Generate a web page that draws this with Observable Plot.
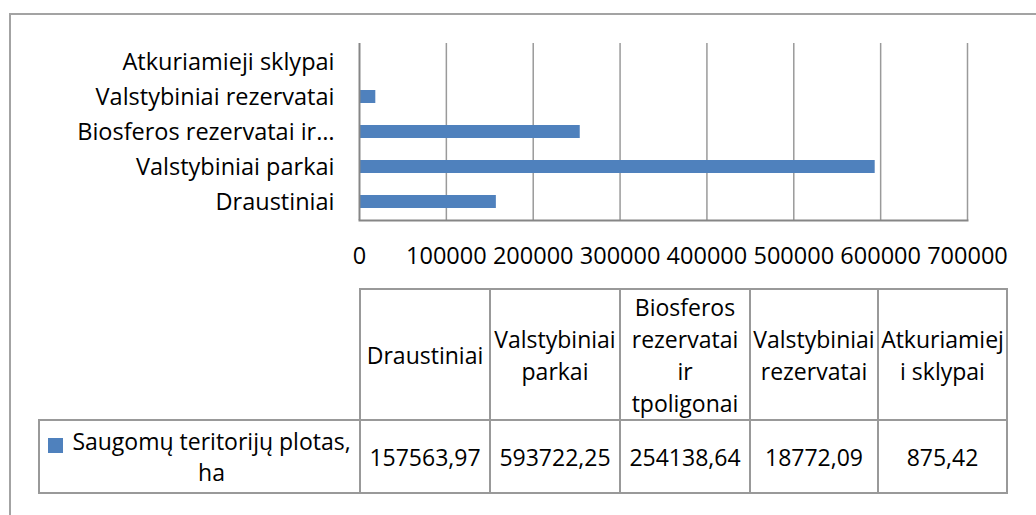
<!DOCTYPE html>
<html>
<head>
<meta charset="utf-8">
<script src="https://cdn.jsdelivr.net/npm/d3@7"></script>
<script src="https://cdn.jsdelivr.net/npm/@observablehq/plot@0.6"></script>
<style>
  html, body { margin: 0; padding: 0; background: #fff; }
  #wrap { position: relative; width: 1036px; height: 515px; overflow: hidden; font-family: "Open Sans", sans-serif; color: #000; }
  #frame { position: absolute; left: 9px; top: 13px; width: 1040px; height: 520px; border-top: 2px solid #a3a3a3; border-left: 2px solid #a3a3a3; box-sizing: border-box; }
  #chart { position: absolute; left: 0; top: 0; }
  #tbl { position: absolute; left: 38px; top: 288px; width: 968px; border-collapse: collapse; table-layout: fixed; font-size: 23px; }
  #tbl td { border: 2px solid #999; padding: 0; text-align: center; vertical-align: middle; white-space: pre; line-height: 32px; overflow: visible; }
  #tbl td.empty { border: none; }
  .key { position: absolute; left: 8px; top: 12px; width: 15px; height: 15px; }
  .leg { position: relative; padding: 0 6px 0 30px; line-height: 31px; }
</style>
</head>
<body>
<div id="wrap">
  <div id="frame"></div>
  <div id="chart"></div>
  <table id="tbl"><colgroup id="cols"></colgroup></table>
</div>
<script>
const categories = ["Draustiniai", "Valstybiniai parkai", "Biosferos rezervatai ir tpoligonai", "Valstybiniai rezervatai", "Atkuriamieji sklypai"];
const values = [157563.97, 593722.25, 254138.64, 18772.09, 875.42];
const axisLabels = ["Draustiniai", "Valstybiniai parkai", "Biosferos rezervatai ir…", "Valstybiniai rezervatai", "Atkuriamieji sklypai"];
const tableHeaders = ["Draustiniai", "Valstybiniai\nparkai", "Biosferos\nrezervatai\nir\ntpoligonai", "Valstybiniai\nrezervatai", "Atkuriamiej\ni sklypai"];
const seriesName = "Saugomų teritorijų plotas,\nha";
const xTicks = [0, 100000, 200000, 300000, 400000, 500000, 600000, 700000];
const barColor = "#4F81BD";

const data = categories.map((c, i) => ({category: c, value: values[i]}));

const chart = Plot.plot({
  width: 1036,
  height: 280,
  marginLeft: 359,
  marginRight: 69,
  marginTop: 43,
  marginBottom: 60,
  style: {fontFamily: "Open Sans, sans-serif", fontSize: "23px", color: "#000", background: "transparent", overflow: "visible"},
  x: {domain: [0, 700000]},
  y: {domain: categories.slice().reverse(), paddingInner: 0, paddingOuter: 0},
  marks: [
    Plot.gridX(xTicks.slice(1), {stroke: "#9a9a9a", strokeOpacity: 1, strokeWidth: 1.5}),
    Plot.frame({anchor: "bottom", stroke: "#868686", strokeWidth: 2}),
    Plot.barX(data, {x: "value", y: "category", fill: barColor, insetTop: 11, insetBottom: 11}),
    Plot.ruleX([0], {stroke: "#868686", strokeWidth: 2}),
    Plot.axisY({tickSize: 0, tickPadding: 25, label: null, fontSize: 23.5, tickFormat: d => axisLabels[categories.indexOf(d)]}),
    Plot.axisX(xTicks, {tickSize: 0, tickPadding: 27, label: null, fontSize: 23.5, tickFormat: d => `${d}`})
  ]
});
document.getElementById("chart").appendChild(chart);

// data table below the chart
const colWidths = [321, 130, 130, 130, 128, 129];
const tbl = document.getElementById("tbl");
const cols = document.getElementById("cols");
colWidths.forEach(w => { const col = document.createElement("col"); col.style.width = w + "px"; cols.appendChild(col); });
const r1 = tbl.insertRow();
r1.style.height = "131px";
const c0 = r1.insertCell();
c0.className = "empty";
tableHeaders.forEach(h => {
  const c = r1.insertCell();
  c.textContent = h;
});
const r2 = tbl.insertRow();
r2.style.height = "73px";
const lc = r2.insertCell();
const leg = document.createElement("div");
leg.className = "leg";
const key = document.createElement("div");
key.className = "key";
key.style.background = barColor;
leg.appendChild(key);
leg.appendChild(document.createTextNode(seriesName));
leg.style.whiteSpace = "pre-line";
lc.appendChild(leg);
values.forEach(v => {
  const c = r2.insertCell();
  c.textContent = v.toFixed(2).replace(".", ",");
});
</script>
</body>
</html>
